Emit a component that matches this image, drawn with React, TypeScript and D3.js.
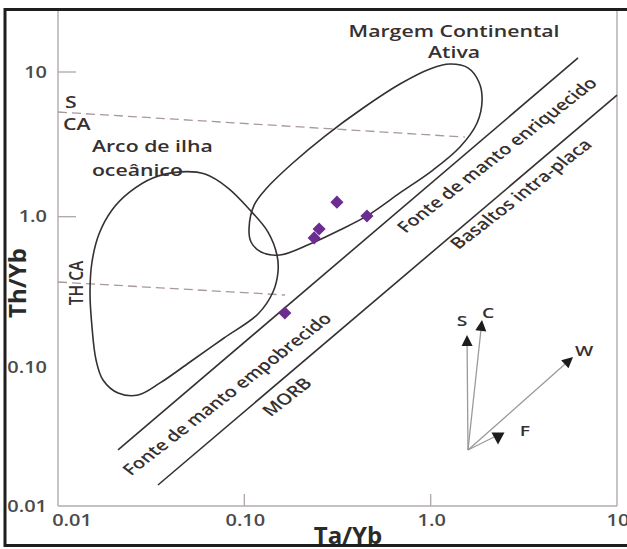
import React from 'react';
import * as d3 from 'd3';

const WIDTH = 627;
const HEIGHT = 549;

// Axis ticks
const xTickValues = [0.01, 0.1, 1, 10];
const xTickLabels = ['0.01', '0.10', '1.0', '10'];
const yTickValues = [0.01, 0.1, 1, 10];
const yTickLabels = ['0.01', '0.10', '1.0', '10'];
const xTickMarks = [0.1, 1];
const yTickMarks = [1, 10];

// Samples (Ta/Yb, Th/Yb)
const sampleTaYb = [0.314, 0.455, 0.252, 0.237, 0.165];
const sampleThYb = [1.26, 1.01, 0.822, 0.713, 0.216];

// Field: Margem Continental Ativa
const activeMarginTaYb = [0.106, 0.113, 0.132, 0.182, 0.271, 0.434, 0.684, 0.991, 1.27, 1.585, 1.815, 1.888, 1.774, 1.436, 1.029, 0.684, 0.455, 0.326, 0.225, 0.155, 0.123, 0.1086];
const activeMarginThYb = [0.836, 1.205, 1.578, 2.35, 3.61, 5.64, 8.26, 10.5, 11.35, 10.67, 8.53, 6.4, 4.44, 3.03, 2.1, 1.459, 1.012, 0.809, 0.647, 0.543, 0.57, 0.668];

// Field: Arco de ilha oceânico
const islandArcTaYb = [0.0452, 0.0615, 0.0818, 0.1072, 0.134, 0.1497, 0.1516, 0.1425, 0.1184, 0.0778, 0.0511, 0.0353, 0.0269, 0.021, 0.01744, 0.016, 0.01522, 0.01485, 0.01522, 0.0166, 0.0195, 0.0243, 0.0323];
const islandArcThYb = [2.04, 1.97, 1.578, 1.112, 0.783, 0.543, 0.4145, 0.3015, 0.2124, 0.145, 0.0989, 0.0709, 0.0585, 0.0604, 0.0743, 0.1022, 0.1728, 0.2968, 0.486, 0.759, 1.112, 1.481, 1.85];

// Mantle array boundaries
const upperArrayTaYb = [0.021, 6.18];
const upperArrayThYb = [0.0244, 12.5];
const lowerArrayTaYb = [0.0344, 10];
const lowerArrayThYb = [0.01397, 6.93];

// Dashed dividers
const sCaDividerTaYb = [0.01, 1.529];
const sCaDividerThYb = [5.29, 3.55];
const thCaDividerTaYb = [0.01, 0.1654];
const thCaDividerThYb = [0.3535, 0.2875];

// Vectors
const vectorOriginTaYb = 1.586;
const vectorOriginThYb = 0.0244;
const vectorNames = ['S', 'C', 'W', 'F'];
const vectorEndTaYb = [1.567, 1.886, 5.81, 2.298];
const vectorEndThYb = [0.152, 0.193, 0.1072, 0.0295];

// Annotation anchors (data space)
const fieldLabels = [
  { text: 'Margem Continental', ta: 1.335, th: 17.5, anchor: 'middle' },
  { text: 'Ativa', ta: 1.335, th: 12.5, anchor: 'middle' },
  { text: 'Arco de ilha', ta: 0.0152, th: 2.8, anchor: 'start' },
  { text: 'oceânico', ta: 0.0152, th: 1.91, anchor: 'start' },
  { text: 'S', ta: 0.0109, th: 5.6, anchor: 'start' },
  { text: 'CA', ta: 0.01064, th: 4.0, anchor: 'start' },
];
const centeredLabels = [
  { text: 'Fonte de manto enriquecido', ta: 2.27, th: 2.67, rot: -45 },
  { text: 'Basaltos intra-placa', ta: 3.05, th: 1.435, rot: -45 },
  { text: 'Fonte de manto empobrecido', ta: 0.0807, th: 0.0594, rot: -45 },
  { text: 'MORB', ta: 0.1694, th: 0.0567, rot: -45 },
  { text: 'TH CA', ta: 0.0125, th: 0.348, rot: -90 },
];

const FONT = "'Open Sans', 'Noto Sans', sans-serif";
const INK = '#363030';

export default function App() {
  const x = d3.scaleLog().domain([0.01, 10]).range([58, 617]);
  const y = d3.scaleLog().domain([0.01, 10]).range([506, 72]);
  const SX = (x(10) - x(1)) / (y(1) - y(10));

  const closed = d3
    .line<[number, number]>()
    .x((d) => x(d[0]))
    .y((d) => y(d[1]))
    .curve(d3.curveCatmullRomClosed.alpha(0.5));
  const straight = d3
    .line<[number, number]>()
    .x((d) => x(d[0]))
    .y((d) => y(d[1]));

  const zip = (a: number[], b: number[]) => a.map((v, i) => [v, b[i]] as [number, number]);

  const activeMargin = zip(activeMarginTaYb, activeMarginThYb);
  const islandArc = zip(islandArcTaYb, islandArcThYb);
  const samples = zip(sampleTaYb, sampleThYb);
  const diamond = d3.symbol(d3.symbolSquare, 86)();

  const ox = x(vectorOriginTaYb);
  const oy = y(vectorOriginThYb);

  const vectorLabelOffsets: Record<string, [number, number]> = {
    S: [-5, -9],
    C: [6, -2],
    W: [11, -1],
    F: [27, -2],
  };

  return (
    <svg
      width={WIDTH}
      height={HEIGHT}
      viewBox={`0 0 ${WIDTH} ${HEIGHT}`}
      style={{ position: 'absolute', left: 0, top: 0, background: '#fff' }}
      fontFamily={FONT}
    >
      <rect x={0} y={0} width={WIDTH} height={HEIGHT} fill="#fff" />

      {/* axes frame */}
      <g stroke="#b3abaa" strokeWidth={1.4} fill="none">
        <line x1={x(0.01)} x2={x(0.01)} y1={11} y2={y(0.01)} />
        <line x1={x(10)} x2={x(10)} y1={11} y2={y(0.01)} />
        <line x1={x(0.01)} x2={x(10)} y1={y(0.01)} y2={y(0.01)} />
        {xTickMarks.map((t) => (
          <line key={'xt' + t} x1={x(t)} x2={x(t)} y1={y(0.01)} y2={y(0.01) - 12} />
        ))}
        {yTickMarks.map((t) => (
          <line key={'yt' + t} x1={x(0.01)} x2={x(0.01) + 18} y1={y(t)} y2={y(t)} />
        ))}
      </g>

      {/* tick labels */}
      <g fill="#4a4a4a" fontSize={15.5} fontWeight={600}>
        {xTickValues.map((t, i) => (
          <text
            key={'xl' + t}
            transform={`translate(${x(t) + (i === 0 ? 14 : 1)},${526}) scale(${SX},1)`}
            textAnchor="middle"
          >
            {xTickLabels[i]}
          </text>
        ))}
        {yTickValues.map((t, i) => (
          <text
            key={'yl' + t}
            transform={`translate(${47},${y(t) + (t === 0.1 ? 6 : 0)}) scale(${SX},1)`}
            textAnchor="end"
            dy="0.36em"
          >
            {yTickLabels[i]}
          </text>
        ))}
      </g>

      {/* dashed dividers */}
      <g stroke="#a8999a" strokeWidth={1.3} strokeDasharray="9 5" fill="none">
        <path d={straight(zip(sCaDividerTaYb, sCaDividerThYb)) || ''} />
        <path d={straight(zip(thCaDividerTaYb, thCaDividerThYb)) || ''} />
      </g>

      {/* fields */}
      <g stroke={INK} strokeWidth={1.6} fill="none">
        <path d={closed(islandArc) || ''} />
        <path d={closed(activeMargin) || ''} />
        <path d={straight(zip(upperArrayTaYb, upperArrayThYb)) || ''} />
        <path d={straight(zip(lowerArrayTaYb, lowerArrayThYb)) || ''} />
      </g>

      {/* samples */}
      <g fill="#6b2d8f">
        {samples.map((d, i) => (
          <path key={'s' + i} d={diamond || ''} transform={`translate(${x(d[0])},${y(d[1])}) rotate(45)`} />
        ))}
      </g>

      {/* vectors */}
      <g>
        {vectorNames.map((name, i) => {
          const ex = x(vectorEndTaYb[i]);
          const ey = y(vectorEndThYb[i]);
          const ang = Math.atan2(ey - oy, ex - ox);
          const L = 11;
          const hw = 5.5;
          let head: string;
          let lineEnd: [number, number];
          if (name === 'F') {
            head = `M${ex - 6.5},${ey - 5.5}L${ex + 6.5},${ey - 5.5}L${ex},${ey + 6.5}Z`;
            lineEnd = [ex - 2, ey - 2];
          } else {
            const bx = ex - L * Math.cos(ang);
            const by = ey - L * Math.sin(ang);
            const px = -Math.sin(ang) * hw;
            const py = Math.cos(ang) * hw;
            head = `M${ex},${ey}L${bx + px},${by + py}L${bx - px},${by - py}Z`;
            lineEnd = [bx, by];
          }
          const off = vectorLabelOffsets[name];
          return (
            <g key={name}>
              <line x1={ox} y1={oy} x2={lineEnd[0]} y2={lineEnd[1]} stroke="#9a9a9a" strokeWidth={1.3} />
              <path d={head} fill="#1c1c1c" />
              <text
                transform={`translate(${ex + off[0]},${ey + off[1]}) scale(${SX},1)`}
                textAnchor="middle"
                fontSize={15}
                fontWeight={600}
                fill={INK}
              >
                {name}
              </text>
            </g>
          );
        })}
      </g>

      {/* field labels */}
      <g fill={INK} fontSize={16.5} fontWeight={600}>
        {fieldLabels.map((l, i) => (
          <text
            key={'fl' + i}
            transform={`translate(${x(l.ta)},${y(l.th)}) scale(${SX},1)`}
            textAnchor={l.anchor as any}
          >
            {l.text}
          </text>
        ))}
      </g>
      <g fill={INK} fontSize={15.5} fontWeight={600}>
        {centeredLabels.map((l, i) => (
          <text
            key={'cl' + i}
            transform={`translate(${x(l.ta)},${y(l.th)}) scale(${SX},1) rotate(${l.rot})`}
            textAnchor="middle"
            dy="0.35em"
          >
            {l.text}
          </text>
        ))}
      </g>

      {/* axis titles */}
      <text x={348} y={544} textAnchor="middle" fontSize={24} fontWeight={700} fill="#2a2a2a">
        Ta/Yb
      </text>
      <text
        transform={`translate(${26},${283}) rotate(-90)`}
        textAnchor="middle"
        fontSize={24}
        fontWeight={700}
        fill="#2a2a2a"
      >
        Th/Yb
      </text>

      {/* outer frame */}
      <rect x={5} y={9.5} width={630} height={536} fill="none" stroke="#1e1e1e" strokeWidth={3} />
    </svg>
  );
}
